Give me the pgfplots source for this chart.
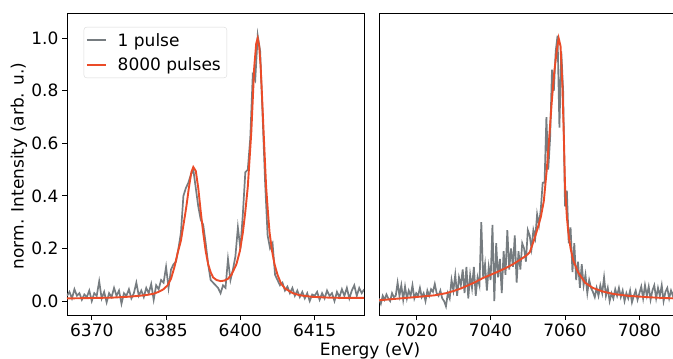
\documentclass[border=0pt]{standalone}
\usepackage{fontspec}
\setmainfont{DejaVu Sans}
\usepackage{pgfplots}
\pgfplotsset{compat=1.18}
\definecolor{gr}{RGB}{118,124,128}
\definecolor{rd}{RGB}{235,75,40}
\newcommand{\fs}{\fontsize{17}{20}\selectfont}
\pgfplotsset{legend image code/.code={\draw[#1] (0pt,0pt) -- (19pt,0pt);}}
\pgfplotsset{panel/.style={
  scale only axis, height=302pt,
  ymin=-0.053, ymax=1.096,
  axis line style={black, line width=0.9pt},
  tick align=outside, major tick length=5pt,
  tick style={black, line width=0.9pt},
  xtick pos=bottom, ytick pos=left,
  tick label style={font=\fs},
  /pgf/number format/assume math mode=true,
  /pgf/number format/set thousands separator={},
  clip=true,
}}
\begin{document}
\begin{tikzpicture}
\useasboundingbox (0pt,0pt) rectangle (673pt,359pt);
\begin{axis}[panel, at={(67pt,44pt)}, anchor=south west, width=297.2pt,
  xmin=6365, xmax=6425,
  xtick={6370,6385,6400,6415},
  ytick={0,0.2,0.4,0.6,0.8,1.0},
  yticklabel style={/pgf/number format/.cd, fixed, fixed zerofill, precision=1},
  legend style={at={(0.056,0.954)}, anchor=north west, draw=black!15, rounded corners=3pt,
    font=\fs, inner xsep=2pt, inner ysep=2pt, nodes={inner sep=4pt}, column sep=7pt, row sep=2pt},
  legend cell align=left,
]
\addplot[gr, line width=1.7pt] coordinates {
(6365.0,0.02) (6365.5,0.035) (6366.0,0.01) (6366.5,0.045) (6367.0,0.02) (6367.5,0.03)
(6368.0,0.005) (6368.5,0.025) (6369.0,0.015) (6369.5,0.04) (6370.0,0.0) (6370.5,0.03)
(6371.0,0.02) (6371.5,0.075) (6372.0,0.01) (6372.5,0.035) (6373.0,-0.005) (6373.5,0.03)
(6374.0,0.015) (6374.5,0.05) (6375.0,0.02) (6375.5,0.04) (6376.0,-0.01) (6376.5,0.03)
(6377.0,0.02) (6377.5,0.045) (6378.0,0.01) (6378.5,0.03) (6379.0,0.07) (6379.5,0.02)
(6380.0,0.04) (6380.5,0.015) (6381.0,0.05) (6381.5,0.03) (6382.0,0.065) (6382.5,0.005)
(6383.0,0.06) (6383.5,0.045) (6384.0,0.08) (6384.5,0.07) (6385.0,0.13) (6385.5,0.05)
(6386.0,0.12) (6386.5,0.14) (6387.0,0.15) (6387.5,0.20) (6388.0,0.26) (6388.5,0.40)
(6389.0,0.43) (6389.5,0.45) (6390.0,0.48) (6390.5,0.50) (6391.0,0.43) (6391.5,0.36)
(6392.0,0.31) (6392.5,0.29) (6393.0,0.22) (6393.5,0.14) (6394.0,0.08) (6394.5,0.07)
(6395.0,0.06) (6395.5,0.05) (6396.0,0.03) (6396.5,0.06) (6397.0,0.05) (6397.5,0.16)
(6398.0,0.08) (6398.5,0.12) (6399.0,0.17) (6399.5,0.28) (6400.0,0.20) (6400.5,0.33)
(6401.0,0.49) (6401.5,0.50) (6402.0,0.62) (6402.5,0.86) (6403.0,0.84) (6403.5,1.01)
(6404.0,0.95) (6404.5,0.70) (6405.0,0.45) (6405.5,0.25) (6406.0,0.20) (6406.5,0.22)
(6407.0,0.10) (6407.5,0.08) (6408.0,0.06) (6408.5,0.07) (6409.0,0.04) (6409.5,0.055)
(6410.0,0.03) (6410.5,0.05) (6411.0,0.02) (6411.5,0.04) (6412.0,0.015) (6412.5,0.035)
(6413.0,0.01) (6413.5,0.03) (6414.0,0.0) (6414.5,0.025) (6415.0,0.02) (6415.5,0.035)
(6416.0,0.005) (6416.5,0.03) (6417.0,0.01) (6417.5,0.04) (6418.0,0.02) (6418.5,0.03)
(6419.0,0.0) (6419.5,0.035) (6420.0,0.015) (6420.5,0.045) (6421.0,0.02) (6421.5,0.05)
(6422.0,0.01) (6422.5,0.04) (6423.0,0.06) (6423.5,0.02) (6424.0,0.05) (6424.5,0.03)
(6425.0,0.045)
};
\addlegendentry{1 pulse}
\addplot[rd, line width=1.9pt] coordinates {
(6365,0.010) (6368,0.011) (6371,0.012) (6374,0.013) (6377,0.016) (6379,0.019)
(6381,0.023) (6382.5,0.028) (6383.5,0.035) (6384.5,0.045) (6385.3,0.06) (6386,0.085)
(6386.7,0.13) (6387.3,0.18) (6388,0.23) (6388.6,0.30) (6389.1,0.36) (6389.6,0.43)
(6390.1,0.49) (6390.5,0.51) (6391,0.495) (6391.5,0.43) (6392,0.34) (6392.5,0.26)
(6393,0.19) (6393.5,0.14) (6394,0.11) (6394.5,0.09) (6395.2,0.08) (6396,0.076)
(6396.8,0.078) (6397.5,0.085) (6398.2,0.10) (6398.7,0.12) (6399.2,0.14) (6399.9,0.19)
(6400.5,0.26) (6401,0.34) (6401.5,0.435) (6402.2,0.64) (6402.8,0.89) (6403.2,0.98)
(6403.5,1.0) (6403.8,0.97) (6404.1,0.89) (6404.4,0.77) (6404.7,0.64) (6405.2,0.435)
(6405.6,0.33) (6405.9,0.26) (6406.4,0.19) (6406.9,0.14) (6407.5,0.10) (6408.2,0.067)
(6409,0.048) (6410.6,0.03) (6412,0.022) (6414.6,0.016) (6418,0.013) (6421,0.012)
(6425,0.012)
};
\addlegendentry{8000 pulses}
\end{axis}
\begin{axis}[panel, at={(379pt,44pt)}, anchor=south west, width=297.6pt,
  xmin=7010, xmax=7090,
  xtick={7020,7040,7060,7080},
  ytick=\empty,
]
\addplot[gr, line width=1.7pt] coordinates {
(7010.0,0.01) (7010.5,-0.01) (7011.0,0.02) (7011.5,0.005) (7012.0,0.025) (7012.5,0.01)
(7013.0,0.0) (7013.5,0.03) (7014.0,0.015) (7014.5,0.02) (7015.0,0.07) (7015.5,0.02)
(7016.0,0.06) (7016.5,0.005) (7017.0,0.055) (7017.5,0.01) (7018.0,0.04) (7018.5,0.02)
(7019.0,0.06) (7019.5,0.01) (7020.0,0.03) (7020.5,0.02) (7021.0,0.05) (7021.5,0.015)
(7022.0,0.03) (7022.5,0.0) (7023.0,0.04) (7023.5,0.02) (7024.0,0.045) (7024.5,0.035)
(7025.0,0.065) (7025.5,0.03) (7026.0,0.02) (7026.5,0.04) (7027.0,0.01) (7027.5,0.0)
(7028.0,-0.02) (7028.5,0.03) (7029.0,0.01) (7029.5,0.08) (7030.0,0.04) (7030.5,0.10)
(7031.0,0.02) (7031.5,0.09) (7032.0,0.06) (7032.5,0.12) (7033.0,0.03) (7033.5,0.13)
(7034.0,0.01) (7034.5,0.10) (7035.0,0.05) (7035.5,0.13) (7036.0,0.02) (7036.5,0.09)
(7037.0,0.06) (7037.5,0.30) (7038.0,0.09) (7038.5,0.14) (7039.0,0.04) (7039.5,0.13)
(7040.0,0.08) (7040.5,0.29) (7041.0,0.0) (7041.5,0.22) (7042.0,0.09) (7042.5,0.16)
(7043.0,0.03) (7043.5,0.19) (7044.0,0.10) (7044.5,0.27) (7045.0,0.12) (7045.5,0.20)
(7046.0,0.13) (7046.5,0.25) (7047.0,0.07) (7047.5,0.19) (7048.0,0.12) (7048.5,0.22)
(7049.0,0.20) (7049.5,0.15) (7050.0,0.27) (7050.5,0.25) (7051.0,0.20) (7051.5,0.27)
(7052.0,0.24) (7052.5,0.33) (7053.0,0.29) (7053.5,0.35) (7054.0,0.45) (7054.5,0.45)
(7055.0,0.70) (7055.5,0.50) (7056.0,0.62) (7056.5,0.88) (7057.0,0.80) (7057.5,0.95)
(7058.0,1.01) (7058.5,0.66) (7059.0,0.95) (7059.5,0.80) (7060.0,0.36) (7060.5,0.42)
(7061.0,0.22) (7061.5,0.28) (7062.0,0.11) (7062.5,0.22) (7063.0,0.08) (7063.5,0.15)
(7064.0,0.05) (7064.5,0.14) (7065.0,0.06) (7065.5,0.10) (7066.0,0.03) (7066.5,0.08)
(7067.0,0.05) (7067.5,0.035) (7068.0,0.015) (7068.5,0.05) (7069.0,0.02) (7069.5,0.06)
(7070.0,0.03) (7070.5,0.09) (7071.0,0.02) (7071.5,0.05) (7072.0,0.0) (7072.5,0.03)
(7073.0,0.01) (7073.5,0.045) (7074.0,0.02) (7074.5,0.05) (7075.0,0.015) (7075.5,0.04)
(7076.0,0.0) (7076.5,0.03) (7077.0,0.01) (7077.5,0.04) (7078.0,-0.005) (7078.5,0.02)
(7079.0,0.04) (7079.5,0.005) (7080.0,0.03) (7080.5,0.055) (7081.0,0.01) (7081.5,0.06)
(7082.0,0.02) (7082.5,0.055) (7083.0,0.005) (7083.5,0.04) (7084.0,0.06) (7084.5,0.01)
(7085.0,0.05) (7085.5,0.02) (7086.0,0.06) (7086.5,0.0) (7087.0,0.035) (7087.5,0.05)
(7088.0,0.01) (7088.5,0.04) (7089.0,0.02) (7089.5,0.05) (7090.0,0.015)
};
\addplot[rd, line width=1.9pt] coordinates {
(7010,0.003) (7014,0.008) (7018,0.013) (7022,0.018) (7025,0.022) (7028,0.030)
(7030,0.038) (7032,0.048) (7034,0.060) (7036,0.073) (7038,0.088) (7040,0.100)
(7042,0.112) (7044,0.125) (7046,0.140) (7048,0.158) (7049.5,0.172) (7050.5,0.185)
(7051.5,0.225) (7052.5,0.27) (7053.5,0.32) (7054.3,0.38) (7055.1,0.50) (7055.8,0.63)
(7056.4,0.75) (7057.1,0.87) (7057.8,0.955) (7058.3,1.0) (7058.8,0.97) (7059.3,0.82)
(7059.7,0.62) (7060.0,0.44) (7060.5,0.32) (7060.9,0.26) (7061.5,0.20) (7062.2,0.156)
(7063.5,0.11) (7065.4,0.07) (7067.5,0.05) (7070,0.037) (7073,0.027) (7077,0.020)
(7082,0.015) (7086,0.012) (7090,0.010)
};
\end{axis}
\node[rotate=90, font=\fs] at (19pt,193pt) {norm. Intensity (arb. u.)};
\node[font=\fs, anchor=base] at (370pt,3pt) {Energy (eV)};
\end{tikzpicture}
\end{document}
